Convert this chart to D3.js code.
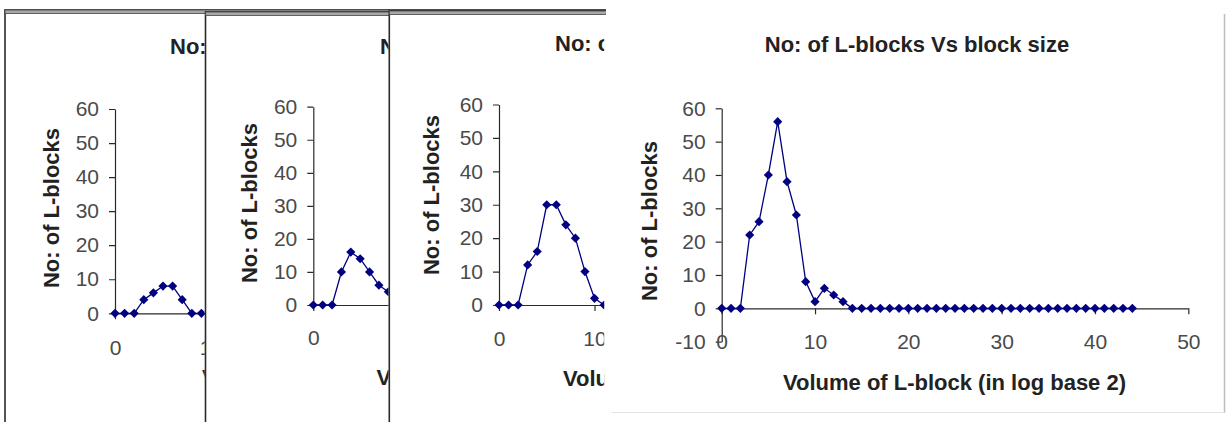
<!DOCTYPE html>
<html>
<head>
<meta charset="utf-8">
<script src="https://cdn.jsdelivr.net/npm/d3@7"></script>
<style>
  html, body { margin: 0; padding: 0; background: #fff; }
  svg { display: block; }
  text { font-family: "Liberation Sans", Arial, sans-serif; }
</style>
</head>
<body>
<script>
// ---------- data ----------
const chartTitle = "No: of L-blocks Vs block size";
const xAxisTitle = "Volume of L-block (in log base 2)";
const yAxisTitle = "No: of L-blocks";
const xTickValues = [0, 10, 20, 30, 40, 50];
const yTickValues = [-10, 0, 10, 20, 30, 40, 50, 60];

// visible parts of the three overlapped charts (index = log2 volume)
const panel1Counts = [0, 0, 0, 4, 6, 8, 8, 4, 0, 0];
const panel2Counts = [0, 0, 0, 10, 16, 14, 10, 6, 4];
const panel3Counts = [0, 0, 0, 12, 16, 30, 30, 24, 20, 10, 2, 0];
// front chart, volumes 0..44
const panel4Counts = [0, 0, 0, 22, 26, 40, 56, 38, 28, 8, 2, 6, 4, 2,
  0, 0, 0, 0, 0, 0, 0, 0, 0, 0, 0, 0, 0, 0, 0, 0, 0, 0, 0, 0, 0, 0, 0, 0, 0, 0, 0, 0, 0, 0, 0];

// ---------- layout ----------
const W = 1228, H = 422;
const panels = [
  { counts: panel1Counts, frame: { x: 5, y: 10, right: 205.5 }, x0: 115, unit: 9.6, y0: 313.3, y60: 109, neg: false,
    title: { x: 170, y: 54, a: "start" }, xt: { x: 202, y: 385, a: "start" }, yt: { x: 59, y: 208 } },
  { counts: panel2Counts, frame: { x: 205.5, y: 12, right: 389.3 }, x0: 313.3, unit: 9.375, y0: 305, y60: 106.7, neg: false,
    title: { x: 380, y: 54, a: "start" }, xt: { x: 376.5, y: 385, a: "start" }, yt: { x: 257, y: 203 } },
  { counts: panel3Counts, frame: { x: 389.3, y: 11, right: 605 }, x0: 499, unit: 9.55, y0: 305, y60: 104.5, neg: false,
    title: { x: 555, y: 51, a: "start" }, xt: { x: 563, y: 386, a: "start" }, yt: { x: 439, y: 195 } },
  { counts: panel4Counts, frame: null, x0: 721.7, unit: 9.333, y0: 308.3, y60: 108.3, neg: true,
    title: { x: 917, y: 52, a: "middle" }, xt: { x: 954.5, y: 390, a: "middle" }, yt: { x: 657, y: 221 } }
];

const navy = "#000080";
const svg = d3.select("body").append("svg").attr("width", W).attr("height", H);
const defs = svg.append("defs");

// drop the characters of a clipped text that lie wholly beyond the panel edge
function trimToEdge(node, edge) {
  const n = node.getNumberOfChars();
  let keep = n;
  for (let k = 0; k < n; k++) {
    if (node.getStartPositionOfChar(k).x >= edge) { keep = k; break; }
  }
  if (keep === 0) node.remove();
  else if (keep < n) node.textContent = node.textContent.slice(0, keep);
}

panels.forEach((p, i) => {
  const g = svg.append("g");
  let clipX, clipY, clipW;
  if (p.frame) {
    const f = p.frame;
    g.append("rect").attr("x", f.x).attr("y", f.y).attr("width", W + 50).attr("height", H + 50)
      .attr("fill", "#fff").attr("stroke", "#2a2a2a").attr("stroke-width", 1.6);
    g.append("rect").attr("x", f.x).attr("y", f.y).attr("width", W + 50).attr("height", 3.5)
      .attr("fill", "#a8a8a8").attr("stroke", "#444").attr("stroke-width", 0.8);
    clipX = f.x + 1; clipY = f.y + 4; clipW = f.right - f.x - 1.8;
  } else {
    g.append("rect").attr("x", 606).attr("y", 0).attr("width", W - 606).attr("height", H).attr("fill", "#fff");
    g.append("line").attr("x1", 1224.5).attr("x2", 1224.5).attr("y1", 14).attr("y2", 413)
      .attr("stroke", "#bdbdbd").attr("stroke-width", 1.5);
    g.append("line").attr("x1", 612).attr("x2", 1224.5).attr("y1", 412.5).attr("y2", 412.5)
      .attr("stroke", "#e4e4e4").attr("stroke-width", 1);
    clipX = 606; clipY = 0; clipW = W - 606;
  }
  const edge = clipX + clipW;
  defs.append("clipPath").attr("id", "clip" + i)
    .append("rect").attr("x", clipX).attr("y", clipY).attr("width", clipW).attr("height", H - clipY);
  const c = g.append("g").attr("clip-path", `url(#clip${i})`);

  const x = d3.scaleLinear().domain([0, 50]).range([p.x0, p.x0 + 50 * p.unit]);
  const y = d3.scaleLinear().domain([0, 60]).range([p.y0, p.y60]);
  const yMin = p.neg ? -10 : 0;
  const yAx = y.copy().domain([yMin, 60]).range([y(yMin), y(60)]);
  const fmt = d => String(d);

  // y axis
  const ya = c.append("g").attr("transform", `translate(${p.x0},0)`)
    .call(d3.axisLeft(yAx).tickValues(yTickValues.filter(v => v >= yMin)).tickFormat(fmt)
      .tickSize(6).tickSizeOuter(0).tickPadding(10));
  // x axis
  const xa = c.append("g").attr("transform", `translate(0,${p.y0})`)
    .call(d3.axisBottom(x).tickValues(xTickValues).tickFormat(fmt).tickSize(6).tickSizeOuter(0));
  xa.selectAll("text").attr("y", y(-10) - p.y0).attr("dy", "0.35em");
  [ya, xa].forEach(a => {
    a.selectAll("path.domain").attr("stroke", "#2a2a2a").attr("stroke-width", 1.2);
    a.selectAll(".tick line").attr("stroke", "#2a2a2a").attr("stroke-width", 1.2);
    a.selectAll("text").attr("font-size", 21).attr("fill", "#4a4a4a")
      .attr("font-family", "'Liberation Sans', Arial, sans-serif");
  });
  // tick labels that start beyond the visible edge are hidden anyway
  xa.selectAll(".tick text").each(function () {
    const b = this.getBoundingClientRect();
    if (b.left >= edge) this.remove();
  });

  // series
  c.append("path").datum(p.counts)
    .attr("d", d3.line().x((d, k) => x(k)).y(d => y(d)))
    .attr("fill", "none").attr("stroke", navy).attr("stroke-width", 1.3);
  c.selectAll("path.mk").data(p.counts).join("path").attr("class", "mk")
    .attr("d", d3.symbol(d3.symbolSquare, 42))
    .attr("transform", (d, k) => `translate(${x(k)},${y(d)}) rotate(45)`)
    .attr("fill", navy);

  // titles
  const bold = s => s.attr("font-weight", "bold").attr("font-size", 22).attr("fill", "#222");
  const t1 = c.append("text").attr("x", p.title.x).attr("y", p.title.y).attr("text-anchor", p.title.a)
    .text(chartTitle).call(bold);
  const t2 = c.append("text").attr("x", p.xt.x).attr("y", p.xt.y).attr("text-anchor", p.xt.a)
    .text(xAxisTitle).call(bold);
  c.append("text").attr("transform", `translate(${p.yt.x},${p.yt.y}) rotate(-90)`)
    .attr("text-anchor", "middle").text(yAxisTitle).call(bold);
  if (p.frame) { trimToEdge(t1.node(), edge); trimToEdge(t2.node(), edge); }
});
</script>
</body>
</html>
